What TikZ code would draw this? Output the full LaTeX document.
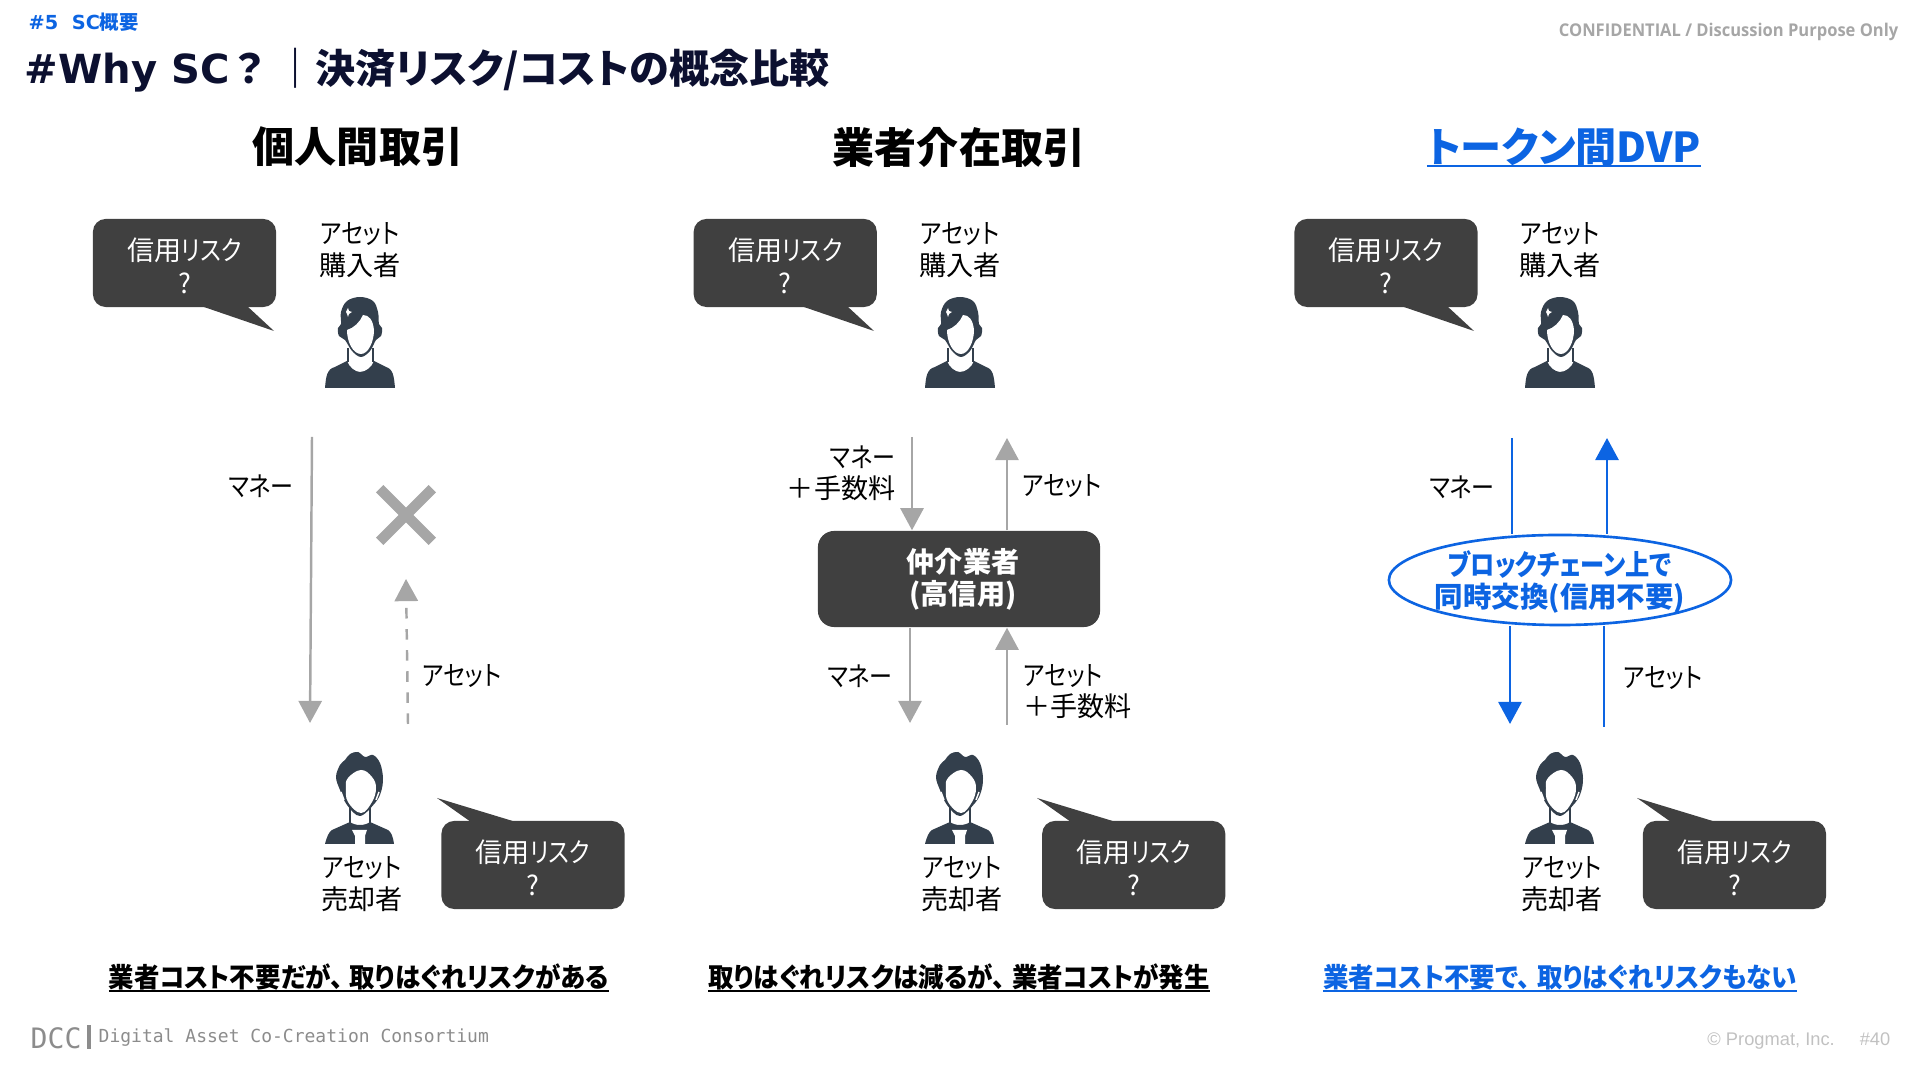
\documentclass[tikz,border=0pt]{standalone}
\usepackage{fontspec}
\usepackage{xcolor}
\usepackage{tikz}
\usetikzlibrary{arrows.meta, shapes.geometric, shapes.misc, positioning}
\setmainfont[RawFeature=+palt]{Noto Sans CJK JP}
\newfontfamily\kanafont[RawFeature=+palt, FakeStretch=0.85]{Noto Sans CJK JP}
\newfontfamily\verdictfont[RawFeature=+palt, FakeStretch=0.94]{Noto Sans CJK JP}
\newfontfamily\latinfont{DejaVu Sans}
\newfontfamily\tagfont[FakeStretch=0.94]{Open Sans}
\newfontfamily\footfont{Liberation Sans}
\newfontfamily\monofont{DejaVu Sans Mono}
\definecolor{darkbox}{RGB}{64, 64, 64}
\definecolor{iconslate}{RGB}{51, 63, 76}
\definecolor{arrowgray}{RGB}{166, 166, 166}
\definecolor{accentblue}{RGB}{12, 100, 226}
\definecolor{titlenavy}{RGB}{12, 16, 48}
\definecolor{footgray}{RGB}{140, 140, 140}
\newcommand{\kana}[1]{{\kanafont #1}}
\newcommand{\ulined}[1]{\setbox0=\hbox{#1}\rlap{\rule[-1.05pt]{\wd0}{0.52pt}}\smash{\box0}}
\newcommand{\risktext}{\rule{0pt}{8.2pt}信用\kana{リスク}\\?}

\begin{document}
\begin{tikzpicture}[x=0.01cm, y=-0.01cm,
    bubble/.style={rectangle, fill=darkbox, text=white, minimum width=1.83cm, minimum height=0.88cm, inner sep=0pt, rounded corners=3.6pt, align=center, font=\fontsize{7.7}{9.3}\selectfont},
    tail/.style={fill=darkbox},
    tag/.style={inner sep=0pt, align=center, font=\fontsize{7.7}{8.9}\selectfont},
    headline/.style={inner sep=0pt, font=\fontsize{11.95}{14}\selectfont\bfseries},
    verdict/.style={inner sep=0pt, anchor=base, font=\fontsize{7.7}{9}\selectfont\bfseries\verdictfont},
    grayline/.style={draw=arrowgray, line width=0.7pt},
    grayarrow/.style={grayline, -{Triangle[width=6.6pt, length=6.3pt]}},
    blueline/.style={draw=accentblue, line width=0.75pt},
    bluearrow/.style={blueline, -{Triangle[width=6.6pt, length=6.3pt]}},
    pics/buyer/.style={code={
        \fill[iconslate] (-35,0) .. controls (-34,-12) and (-33,-19) .. (-25,-21) -- (-13,-27) .. controls (-11,-21) and (-5,-16) .. (0,-16) .. controls (6,-16) and (12,-21) .. (14,-27) -- (26,-21) .. controls (33,-19) and (34,-12) .. (35,0) -- cycle;
        \draw[iconslate, line width=0.8pt] (-12,-40) -- (-12,-26) (13,-40) -- (13,-26);
        \fill[iconslate] plot[smooth cycle, tension=0.6] coordinates {(0,-91) (13,-87) (18,-76) (19,-64) (22,-60) (21,-52) (16,-48) (10,-37) (1,-31) (-8,-37) (-15,-48) (-21,-52) (-22,-60) (-19,-64) (-19,-76) (-13,-87)};
        \fill[white] (-13,-58) .. controls (-6,-60) and (0,-66) .. (3,-73) .. controls (9,-73) and (13,-68) .. (14,-58) .. controls (14,-46) and (8,-34) .. (1,-34) .. controls (-7,-34) and (-13,-46) .. (-13,-58) -- cycle;
        \fill[white] (-14,-76) -- (-12,-80) -- (-11,-77) -- (-8,-76) -- (-11,-74) -- (-12,-71) -- (-13,-74) -- cycle;
    }},
    pics/seller/.style={code={
        \fill[iconslate] (-34,0) .. controls (-32,-8) and (-30,-12) .. (-27,-14) -- (-9,-22) .. controls (-4,-18) and (6,-18) .. (11,-22) -- (29,-14) .. controls (32,-12) and (34,-8) .. (35,0) -- cycle;
        \draw[iconslate, line width=0.8pt] (-9,-36) -- (-9,-20) (11,-36) -- (11,-20);
        \fill[iconslate] plot[smooth cycle, tension=0.6] coordinates {(-19,-54) (-23,-67) (-19,-79) (-14,-84) (-9,-90) (-1,-92) (6,-87) (14,-89) (21,-81) (24,-66) (22,-52) (16,-41) (1,-28) (-12,-39)};
        \fill[white] plot[smooth cycle, tension=0.7] coordinates {(2,-74) (-11,-66) (-13,-56) (-11,-42) (2,-31) (13,-42) (17,-56) (13,-67)};
        \draw[white, line width=0.4pt] (-18,-52) -- (-15,-44) (20,-52) -- (17,-44);
        \fill[white] (-7,-14) -- (8,-14) -- (6,-8) -- (6,0) -- (-4,0) -- (-4,-8) -- cycle;
    }}]

    \useasboundingbox (0,0) rectangle (1920,1080);

    \node [inner sep=0pt, anchor=west, text=accentblue, font=\fontsize{5.5}{7}\selectfont\bfseries] (section) at (28,22) {\latinfont\#5\ \ SC\normalfont\bfseries 概要};
    \node [inner sep=0pt, anchor=west, text=titlenavy, font=\fontsize{11.4}{13}\selectfont\bfseries] (title) at (24,70.5) {{\latinfont\#Why SC}\,？\hspace{3.2pt}｜決済リスク/コストの概念比較};
    \node [inner sep=0pt, anchor=east, text=arrowgray, font=\fontsize{5}{7}\selectfont\bfseries\tagfont] (confidential) at (1899,32) {CONFIDENTIAL / Discussion Purpose Only};
    \node [inner sep=0pt, anchor=west, text=footgray, font=\fontsize{8}{9}\selectfont\monofont] (dcc) at (30,1038) {DCC};
    \node [fill=footgray, minimum width=0.03cm, minimum height=0.24cm, inner sep=0pt] (dccbar) at (89,1037) {};
    \node [inner sep=0pt, anchor=west, text=footgray, font=\fontsize{5.12}{7}\selectfont\monofont] (consortium) at (98,1038) {Digital Asset Co-Creation Consortium};
    \node [inner sep=0pt, anchor=east, text=arrowgray!70, font=\fontsize{5.2}{7}\selectfont\footfont] (page) at (1891,1041) {© Progmat, Inc. \quad \#40};

    \node [headline] (headA) at (358,147) {個人間取引};
    \node [headline] (headB) at (959,147) {業者介在取引};
    \node [headline, anchor=base, text=accentblue, font=\fontsize{11.7}{14}\selectfont\bfseries] (headC) at (1564,163) {\ulined{トークン間DVP}};

    \node [bubble] (buyriskA) at (184.5,263) {\risktext};
    \node [bubble, right=4.16cm of buyriskA] (buyriskB) {\risktext};
    \node [bubble, right=4.16cm of buyriskB] (buyriskC) {\risktext};
    \fill [tail] (201,306) -- (274,331) -- (247,306) -- cycle;
    \fill [tail] (801,306) -- (874,331) -- (847,306) -- cycle;
    \fill [tail] (1401,306) -- (1474,331) -- (1447,306) -- cycle;

    \node [tag] (buyerA) at (360,250) {\kana{アセット}\\購入者};
    \node [tag] (buyerB) at (960,250) {\kana{アセット}\\購入者};
    \node [tag] (buyerC) at (1560,250) {\kana{アセット}\\購入者};
    \pic (iconbuyA) at (360,388) {buyer};
    \pic (iconbuyB) at (960,388) {buyer};
    \pic (iconbuyC) at (1560,388) {buyer};

    \pic (iconsellA) at (359,844) {seller};
    \pic (iconsellB) at (959,844) {seller};
    \pic (iconsellC) at (1559,844) {seller};
    \node [tag] (sellerA) at (362,884) {\kana{アセット}\\売却者};
    \node [tag] (sellerB) at (962,884) {\kana{アセット}\\売却者};
    \node [tag] (sellerC) at (1562,884) {\kana{アセット}\\売却者};

    \node [bubble] (sellriskA) at (533,865) {\risktext};
    \node [bubble, right=4.16cm of sellriskA] (sellriskB) {\risktext};
    \node [bubble, right=4.16cm of sellriskB] (sellriskC) {\risktext};
    \fill [tail] (437,798) -- (516,822) -- (471,822) -- cycle;
    \fill [tail] (1037,798) -- (1116,822) -- (1071,822) -- cycle;
    \fill [tail] (1637,798) -- (1716,822) -- (1671,822) -- cycle;

    \coordinate (moneytopA) at (312,437);
    \coordinate (moneyendA) at (310,723);
    \coordinate (assetbotA) at (408,724);
    \coordinate (assetendA) at (406,579);
    \draw [grayarrow] (moneytopA) -- (moneyendA);
    \draw [grayarrow, dashed] (assetbotA) -- (assetendA);
    \node [tag] (moneyA) at (261,486) {\kana{マネー}};
    \node [tag] (assetA) at (462,676) {\kana{アセット}};
    \node [cross out, draw=arrowgray, line width=3pt, minimum width=0.42cm, minimum height=0.42cm, inner sep=0pt] (ngA) at (406,515) {};

    \node [rectangle, fill=darkbox, text=white, minimum width=2.82cm, minimum height=0.96cm, inner sep=0pt, rounded corners=4.6pt, align=center, font=\fontsize{8}{9.2}\selectfont\bfseries] (broker) at (959,579) {\hspace*{0.08cm}仲介業者\\\hspace*{0.08cm}(高信用)};
    \coordinate (moneytopB) at (912,437);
    \coordinate (assettopB) at (1007,438);
    \coordinate (moneyendB) at (910,723);
    \coordinate (assetbotB) at (1007,725);
    \draw [grayarrow] (moneytopB) -- (moneytopB |- broker.north);
    \draw [grayarrow] (assettopB |- broker.north) -- (assettopB);
    \draw [grayarrow] (moneyendB |- broker.south) -- (moneyendB);
    \draw [grayarrow] (assetbotB) -- (assetbotB |- broker.south);
    \node [tag, anchor=east, align=right] (feeB) at (896,473) {\kana{マネー}\\＋手数料};
    \node [tag] (assetB) at (1062,486) {\kana{アセット}};
    \node [tag] (moneyB) at (860,676) {\kana{マネー}};
    \node [tag, anchor=west, align=left] (assetfeeB) at (1023,692) {\kana{アセット}\\＋手数料};

    \node [ellipse, draw=accentblue, line width=0.75pt, fill=white, minimum width=3.42cm, minimum height=0.9cm, inner sep=0pt] (chain) at (1560,580) {};
    \node [inner sep=0pt, text=accentblue, align=center, font=\fontsize{8.1}{9.1}\selectfont\bfseries] (chaintext) at (1560,582) {\kana{ブロックチェーン上で}\\同時交換(信用不要)};
    \coordinate (moneytopC) at (1512,438);
    \coordinate (assettopC) at (1607,438);
    \coordinate (moneyendC) at (1510,724);
    \coordinate (assetbotC) at (1604,727);
    \draw [blueline] (moneytopC) -- (chain.north -| moneytopC);
    \draw [bluearrow] (chain.north -| assettopC) -- (assettopC);
    \draw [bluearrow] (chain.south -| moneyendC) -- (moneyendC);
    \draw [blueline] (assetbotC) -- (chain.south -| assetbotC);
    \node [tag] (moneyC) at (1462,487) {\kana{マネー}};
    \node [tag] (assetC) at (1663,678) {\kana{アセット}};

    \node [verdict] (verdictA) at (359,988) {\ulined{業者コスト不要だが、\hspace{2pt}取りはぐれリスクがある}};
    \node [verdict] (verdictB) at (959,988) {\ulined{取りはぐれリスクは減るが、\hspace{2pt}業者コストが発生}};
    \node [verdict, text=accentblue] (verdictC) at (1560,988) {\ulined{業者コスト不要で、\hspace{2pt}取りはぐれリスクもない}};
\end{tikzpicture}
\end{document}
